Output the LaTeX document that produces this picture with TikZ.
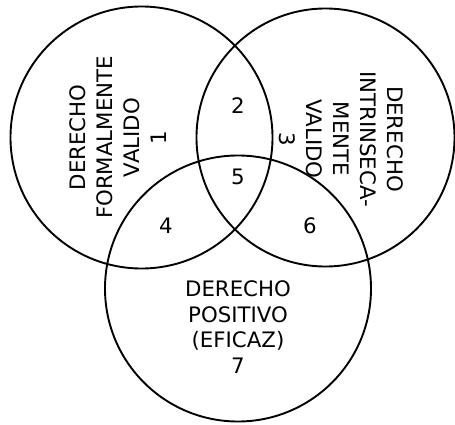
\documentclass[tikz,border=0pt]{standalone}
\usepackage{fontspec}
\setmainfont{DejaVu Sans}
\begin{document}
\begin{tikzpicture}[x=1pt,y=-1pt,
  venn/.style={circle,draw=black,line width=1.9pt,inner sep=0pt},
  lbl/.style={inner sep=0pt,align=center,font=\fontsize{21.3}{27}\selectfont},
  num/.style={inner sep=0pt,font=\fontsize{21.3}{27}\selectfont}]
\useasboundingbox (0,0) rectangle (455,425);
\node[venn,minimum size=262pt] (cL) at (141.5,137.5) {};
\node[venn,minimum size=258pt] (cR) at (325.5,137.5) {};
\node[venn,minimum size=266pt] (cB) at (238,288.5) {};
\node[lbl,rotate=90] (tL) at (118,137.5) {DERECHO\\FORMALMENTE\\VALIDO\\1};
\node[lbl,rotate=-90] (tR) at (341,139) {DERECHO\\INTRINSECA-\\MENTE\\VALIDO\\3};
\node[lbl,font=\fontsize{21.3}{25.5}\selectfont] (tB) at (238,327) {DERECHO\\POSITIVO\\(EFICAZ)\\7};
\node[num] (n2) at (238,106) {2};
\node[num] (n5) at (238,177) {5};
\node[num] (n4) at (166,226) {4};
\node[num] (n6) at (310,226) {6};
\end{tikzpicture}
\end{document}
